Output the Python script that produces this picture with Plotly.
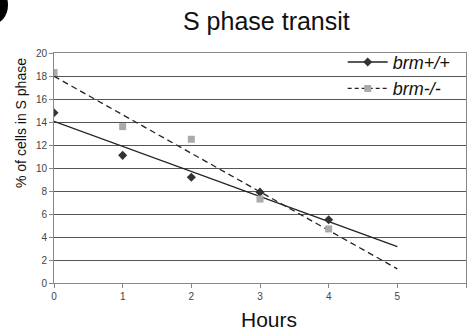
import numpy as np
import plotly.graph_objects as go

hours = [0, 1, 2, 3, 4]
brm_wt = [14.8, 11.1, 9.2, 7.9, 5.5]
brm_ko = [18.3, 13.6, 12.5, 7.3, 4.7]
trend_x = [0, 5]

W, H = 469, 336
L, R, T, B = 54, 3, 53, 53

fig = go.Figure()


def trend(y):
    slope, icpt = np.polyfit(hours, y, 1)
    return [icpt + slope * x for x in trend_x]


# trend lines
fig.add_trace(go.Scatter(x=trend_x, y=trend(brm_wt), mode='lines',
                         line=dict(color='#222', width=1.3), showlegend=False))
fig.add_trace(go.Scatter(x=trend_x, y=trend(brm_ko), mode='lines',
                         line=dict(color='#222', width=1.3, dash='6px,4px'), showlegend=False))

# data points
fig.add_trace(go.Scatter(x=hours, y=brm_wt, mode='markers',
                         marker=dict(symbol='diamond', size=7, color='#333'), showlegend=False))
fig.add_trace(go.Scatter(x=hours, y=brm_ko, mode='markers',
                         marker=dict(symbol='square', size=7, color='#aaaaaa'), showlegend=False))

# legend entries
fig.add_trace(go.Scatter(x=[None], y=[None], mode='lines+markers', name='<i>brm+/+</i>',
                         line=dict(color='#222', width=1.3),
                         marker=dict(symbol='diamond', size=7, color='#333')))
fig.add_trace(go.Scatter(x=[None], y=[None], mode='lines+markers', name='<i>brm-/-</i>',
                         line=dict(color='#222', width=1.3, dash='4px,3px'),
                         marker=dict(symbol='square', size=7, color='#aaaaaa')))

pw = W - L - R
ph = H - T - B


def px_x(px):
    return (px - L) / pw


def px_y(py):
    return 1 + (T - py) / ph


# cut-off panel letter blob in top-left corner
fig.add_shape(type='circle', xref='paper', yref='paper',
              x0=px_x(-22), x1=px_x(8), y0=px_y(24), y1=px_y(-14),
              fillcolor='black', line=dict(width=0), layer='above')

fig.add_annotation(text='% of cells in S phase', xref='paper', yref='paper',
                   x=px_x(21), y=px_y(123), textangle=-90, showarrow=False,
                   xanchor='center', yanchor='middle',
                   font=dict(size=14, color='#111'))
fig.add_annotation(text='Hours', xref='paper', yref='paper',
                   x=px_x(269), y=px_y(319), showarrow=False,
                   xanchor='center', yanchor='middle',
                   font=dict(size=21, color='#111'))
fig.add_annotation(text='S phase transit', xref='paper', yref='paper',
                   x=px_x(266), y=px_y(21), showarrow=False,
                   xanchor='center', yanchor='middle',
                   font=dict(size=25, color='#111'))

fig.update_layout(
    width=W, height=H,
    margin=dict(l=L, r=R, t=T, b=B, autoexpand=False),
    paper_bgcolor='white', plot_bgcolor='white',
    font=dict(family='Liberation Sans, Arial', color='#111'),
    legend=dict(x=0.975, xanchor='right', y=1.04, yanchor='top',
                bgcolor='rgba(0,0,0,0)', font=dict(size=18, color='#111'),
                itemwidth=40, tracegroupgap=0),
    xaxis=dict(range=[0, 6], dtick=1, showgrid=False, zeroline=False,
               showline=True, linecolor='#888', linewidth=1, mirror=True,
               ticks='outside', ticklen=4, tickcolor='#888',
               tickfont=dict(size=10, color='#444')),
    yaxis=dict(range=[0, 20], dtick=2, showgrid=True, gridcolor='#555', gridwidth=1,
               zeroline=False, showline=True, linecolor='#888', linewidth=1, mirror=True,
               ticks='outside', ticklen=4, tickcolor='#888',
               tickfont=dict(size=10, color='#444')),
)

# page default body margin would shift the chart by 8px
page_js = ("document.body.style.margin='0';"
           "document.body.style.overflow='hidden';"
           "document.documentElement.style.overflow='hidden';")
fig.write_html("out.html", config={'displayModeBar': False}, post_script=page_js)
